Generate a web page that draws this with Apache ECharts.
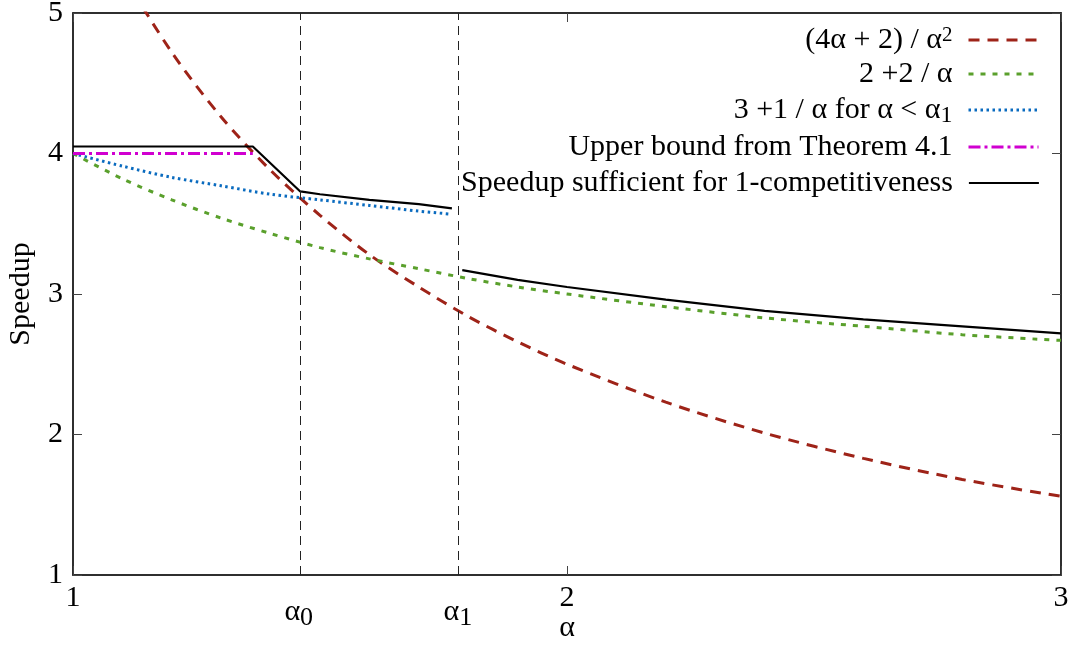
<!DOCTYPE html>
<html>
<head>
<meta charset="utf-8">
<script src="https://cdn.jsdelivr.net/npm/echarts@6/dist/echarts.min.js"></script>
<style>
	html, body { margin: 0; padding: 0; background: #fff; }
	#chart { width: 1076px; height: 646px; }
</style>
</head>
<body>
<div id="chart"></div>
<script>
	'use strict';

	// 数据
	var alpha0 = 1.457;
	var alpha1 = 1.779;

	var xTicks = [1, 2, 3];
	var xLabels = [1, alpha0, alpha1, 2, 3];

	var redX = [1.0, 1.1, 1.2, 1.3, 1.4, 1.5, 1.6, 1.7, 1.8, 1.9, 2.0, 2.2, 2.4, 2.6, 2.8, 3.0];
	var redY = [6.0, 5.29, 4.72, 4.26, 3.88, 3.56, 3.28, 3.05, 2.84, 2.66, 2.50, 2.23, 2.01, 1.83, 1.68, 1.56];

	var greenX = [1.0, 1.1, 1.2, 1.3, 1.4, 1.5, 1.6, 1.7, 1.8, 1.9, 2.0, 2.2, 2.4, 2.6, 2.8, 3.0];
	var greenY = [4.0, 3.82, 3.67, 3.54, 3.43, 3.33, 3.25, 3.18, 3.11, 3.05, 3.0, 2.91, 2.83, 2.77, 2.71, 2.67];

	var blueX = [1.0, 1.1, 1.2, 1.3, 1.4, 1.5, 1.6, 1.7, 1.76];
	var blueY = [4.0, 3.91, 3.83, 3.77, 3.71, 3.67, 3.63, 3.59, 3.57];

	var magentaX = [1.0, 1.364];
	var magentaY = [4.0, 4.0];

	var blackX = [1.0, 1.364, 1.46, 1.5, 1.6, 1.7, 1.767, 1.779, 1.788, 1.9, 2.0, 2.2, 2.4, 2.6, 2.8, 3.0];
	var blackY = [4.05, 4.05, 3.73, 3.71, 3.67, 3.64, 3.61, '-', 3.17, 3.10, 3.05, 2.96, 2.88, 2.82, 2.77, 2.72];

	var seriesNames = ['(4a+2)/a^2', '2+2/a', '3+1/a', 'Upper bound', 'Speedup sufficient'];
	var legendLabels = [
		'(4α + 2) / α{sup|2}',
		'2 +2 / α',
		'3 +1 / α for α < α{sub|1}',
		'Upper bound from Theorem 4.1',
		'Speedup sufficient for 1-competitiveness'
	];

	var FONT = 'Liberation Serif';

	var styles = [
		{ color: '#9e2318', width: 3, type: [11, 8] },
		{ color: '#5aa02c', width: 3, type: [5, 7] },
		{ color: '#0a6bbf', width: 3, type: [2.5, 3.5] },
		{ color: '#d000d0', width: 3, type: [12, 4, 3, 4] },
		{ color: '#000000', width: 2.2, type: 'solid' }
	];

	function zip(xs, ys) {
		return xs.map(function (x, i) { return [x, ys[i]]; });
	}

	var richText = {
		sup: { fontFamily: FONT, fontSize: 21, verticalAlign: 'top', color: '#000' },
		sub: { fontFamily: FONT, fontSize: 24, verticalAlign: 'bottom', color: '#000', padding: [0, 0, -3, 0] },
		g: { fontFamily: FONT, fontSize: 30, color: '#000', lineHeight: 44, verticalAlign: 'bottom' },
		s: { fontFamily: FONT, fontSize: 26, color: '#000', lineHeight: 44, verticalAlign: 'bottom', padding: [0, 0, -4, 0] }
	};

	var legendCenters = [40, 74, 110, 147, 183];

	var legends = seriesNames.map(function (n, i) {
		return {
			data: [n],
			right: 36,
			top: legendCenters[i] - 15,
			orient: 'horizontal',
			align: 'right',
			itemWidth: 70,
			itemHeight: 14,
			padding: 0,
			selectedMode: false,
			itemStyle: { opacity: 0 },
			lineStyle: styles[i],
			formatter: function () { return legendLabels[i]; },
			textStyle: {
				fontFamily: FONT, fontSize: 30, color: '#000',
				padding: [0, 11, 0, 0],
				rich: richText
			}
		};
	});

	var chart = echarts.init(document.getElementById('chart'));

	function line(i, xs, ys, extra) {
		return Object.assign({
			type: 'line',
			name: seriesNames[i],
			data: zip(xs, ys),
			symbol: 'none',
			showSymbol: false,
			clip: true,
			animation: false,
			silent: true,
			itemStyle: { color: styles[i].color },
			lineStyle: styles[i]
		}, extra || {});
	}

	chart.setOption({
		animation: false,
		backgroundColor: '#fff',
		grid: {
			left: 73, right: 15, top: 13, bottom: 71,
			outerBoundsMode: 'none',
			containLabel: false,
			show: true, borderColor: '#222', borderWidth: 1.5
		},
		legend: legends,
		xAxis: [{
			type: 'value', min: 1, max: 3, position: 'bottom',
			name: 'α', nameLocation: 'middle', nameGap: 38, nameMoveOverlap: false,
			nameTextStyle: { fontFamily: FONT, fontSize: 30, color: '#000' },
			axisLine: { show: true, lineStyle: { color: '#222', width: 1.5 } },
			axisTick: { show: true, inside: true, length: 9, customValues: xTicks, lineStyle: { color: '#444' } },
			axisLabel: {
				customValues: xLabels, margin: 8,
				fontFamily: FONT, fontSize: 30, color: '#000',
				rich: richText,
				formatter: function (v) {
					if (Math.abs(v - alpha0) < 1e-6) return '{g|α}{s|0}';
					if (Math.abs(v - alpha1) < 1e-6) return '{g|α}{s|1}';
					return String(v);
				}
			},
			splitLine: { show: false }
		}, {
			type: 'value', min: 1, max: 3, position: 'top',
			axisLine: { show: true, lineStyle: { color: '#222', width: 1.5 } },
			axisTick: { show: true, inside: true, length: 9, customValues: xTicks, lineStyle: { color: '#444' } },
			axisLabel: { show: false },
			splitLine: { show: false }
		}],
		yAxis: [{
			type: 'value', min: 1, max: 5, interval: 1, position: 'left',
			name: 'Speedup', nameLocation: 'middle', nameGap: 37, nameMoveOverlap: false,
			nameTextStyle: { fontFamily: FONT, fontSize: 30, color: '#000' },
			axisLine: { show: true, lineStyle: { color: '#222', width: 1.5 } },
			axisTick: { show: true, inside: true, length: 9, lineStyle: { color: '#444' } },
			axisLabel: { margin: 10, fontFamily: FONT, fontSize: 30, color: '#000' },
			splitLine: { show: false }
		}, {
			type: 'value', min: 1, max: 5, interval: 1, position: 'right',
			axisLine: { show: true, lineStyle: { color: '#222', width: 1.5 } },
			axisTick: { show: true, inside: true, length: 9, lineStyle: { color: '#444' } },
			axisLabel: { show: false },
			splitLine: { show: false }
		}],
		series: [
			line(0, redX, redY, {
				smooth: 0.3,
				markLine: {
					silent: true, animation: false,
					symbol: ['none', 'none'],
					label: { show: false },
					lineStyle: { color: '#222', width: 1, type: [9, 6] },
					data: [{ xAxis: alpha0 }, { xAxis: alpha1 }]
				}
			}),
			line(1, greenX, greenY, { smooth: 0.3 }),
			line(2, blueX, blueY, { smooth: 0.3 }),
			line(3, magentaX, magentaY),
			line(4, blackX, blackY, { connectNulls: false })
		]
	});
</script>
</body>
</html>
